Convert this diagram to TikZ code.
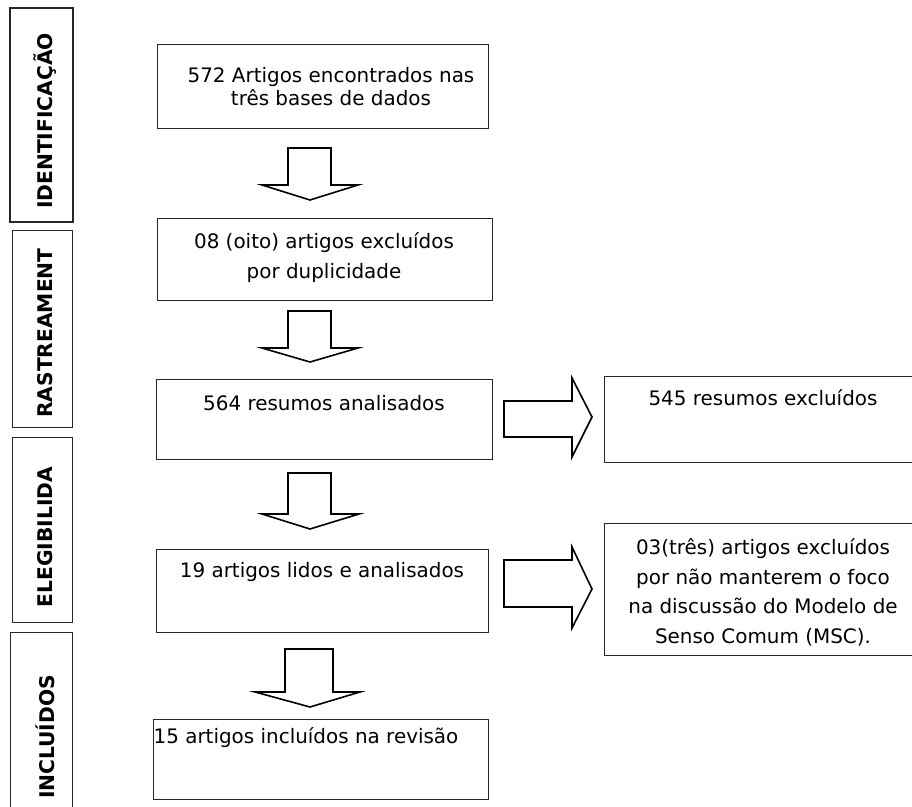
\documentclass[tikz,border=0pt]{standalone}
\usepackage{fontspec}
\setmainfont{DejaVu Sans}
\begin{document}
\begin{tikzpicture}[x=1bp,y=-1bp,
  box/.style={draw=black!85,line width=0.8bp,inner sep=0pt,minimum width=#1},
  phase/.style={draw=black!85,line width=0.9bp,inner sep=0pt},
  phasetext/.style={rotate=90,font=\fontsize{20.3}{22}\selectfont\bfseries,inner sep=0pt},
  txt/.style={font=\fontsize{20}{30}\selectfont,align=center,inner sep=0pt},
  blockarrow/.style={draw=black,line width=1.6bp,line join=miter,fill=white}]
\useasboundingbox (0,0) rectangle (912,807);

% phase boxes
\node[phase,minimum width=63bp,minimum height=214bp,line width=1.6bp] (p1) at (41.5,115) {};
\node[phase,minimum width=60bp,minimum height=197bp] (p2) at (42,328.5) {};
\node[phase,minimum width=60bp,minimum height=185bp] (p3) at (42,529.5) {};
\node[phase,minimum width=62bp,minimum height=185bp] (p4) at (41,724.5) {};
\node[phasetext] (t1) at (45,121) {IDENTIFICAÇÃO};
\node[phasetext] (t2) at (45,333) {RASTREAMENT};
\node[phasetext] (t3) at (45,537) {ELEGIBILIDA};
\node[phasetext] (t4) at (45,737) {INCLUÍDOS};

% main boxes
\node[box=331bp,minimum height=84bp] (b1) at (322.5,86) {};
\node[box=335bp,minimum height=82bp] (b2) at (324.5,259) {};
\node[box=336bp,minimum height=80bp] (b3) at (324,419) {};
\node[box=332bp,minimum height=83bp] (b4) at (322,590.5) {};
\node[box=335bp,minimum height=80bp] (b5) at (320.5,759) {};
\node[box=312bp,minimum height=86bp] (r1) at (760,419) {};
\node[box=312bp,minimum height=132bp] (r2) at (760,589) {};

\node[txt,font=\fontsize{20}{23}\selectfont] (x1) at (331,86.5) {572 Artigos encontrados nas\\três bases de dados};
\node[txt] (x2) at (324,257.5) {08 (oito) artigos excluídos\\por duplicidade};
\node[txt] (x3) at (324,403) {564 resumos analisados};
\node[txt] (x4) at (322,572) {19 artigos lidos e analisados};
\node[txt] (x5) at (306,738) {15 artigos incluídos na revisão};
\node[txt] (x6) at (763,398) {545 resumos excluídos};
\node[txt,font=\fontsize{20}{29.7}\selectfont] (x7) at (763,592.5) {03(três) artigos excluídos\\por não manterem o foco\\na discussão do Modelo de\\Senso Comum (MSC).};

% vertical block arrows
\draw[blockarrow] (288,148) -- (331,148) -- (331,185) -- (358,185) -- (310,200) -- (262,185) -- (288,185) -- cycle;
\draw[blockarrow] (288,311) -- (331,311) -- (331,348) -- (358,348) -- (310,362) -- (262,348) -- (288,348) -- cycle;
\draw[blockarrow] (288,473) -- (331,473) -- (331,514) -- (359,514) -- (310,529) -- (262,514) -- (288,514) -- cycle;
\draw[blockarrow] (285,649) -- (333,649) -- (333,692) -- (360,692) -- (310,707) -- (255,692) -- (285,692) -- cycle;

% horizontal block arrows
\draw[blockarrow] (504,401) -- (572,401) -- (572,378) -- (592,417) -- (572,457) -- (572,437) -- (504,437) -- cycle;
\draw[blockarrow] (504,560) -- (572,560) -- (572,547) -- (592,589) -- (572,628) -- (572,607) -- (504,607) -- cycle;
\end{tikzpicture}
\end{document}
